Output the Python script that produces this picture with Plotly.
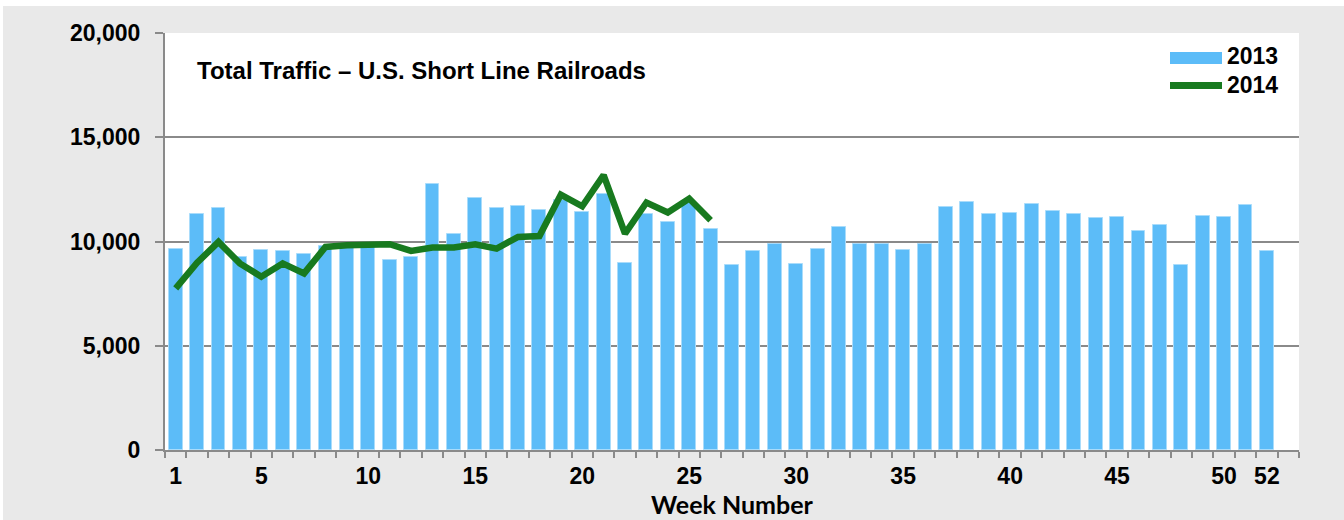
import plotly.graph_objects as go

# Weekly carloads
weeks_2013 = list(range(1, 53))
traffic_2013 = [9660, 11310, 11610, 9280, 9580, 9540, 9390, 9780, 9820, 9900,
                9120, 9270, 12750, 10350, 12080, 11610, 11680, 11520, 12000, 11420,
                12280, 8960, 11330, 10930, 11850, 10620, 8850, 9550, 9890, 8910,
                9620, 10690, 9900, 9900, 9580, 9860, 11660, 11880, 11330, 11370,
                11810, 11460, 11300, 11120, 11170, 10500, 10780, 8860, 11230, 11170,
                11760, 9540]

weeks_2014 = list(range(1, 27))
traffic_2014 = [7750, 8980, 9980, 8950, 8310, 8950, 8470, 9740, 9820, 9870,
                9870, 9550, 9710, 9710, 9870, 9660, 10220, 10260, 12250, 11690,
                13180, 10380, 11870, 11390, 12060, 11020]

week_ticks = [1, 5, 10, 15, 20, 25, 30, 35, 40, 45, 50, 52]
y_ticks = [0, 5000, 10000, 15000, 20000]

BAR_COLOR = "#5cbcf8"
LINE_COLOR = "#187a1f"
GRID_COLOR = "#8a8a8a"
BG_GRAY = "#e9e9e9"
FONT = "Liberation Sans, Arial, sans-serif"

fig = go.Figure()

fig.add_trace(go.Bar(
    x=weeks_2013,
    y=traffic_2013,
    name="2013",
    width=0.65,
    marker=dict(color=BAR_COLOR, line=dict(color="#a9dcfb", width=1)),
    showlegend=False,
))

fig.add_trace(go.Scatter(
    x=weeks_2014,
    y=traffic_2014,
    name="2014",
    mode="lines",
    line=dict(color=LINE_COLOR, width=6.5),
    showlegend=False,
))

# plot area in pixels: x 165..1299, y 33..450
def px_x(px):
    return (px - 165) / 1134

def px_y(py):
    return (450 - py) / 417

shapes = [
    # thin white strips around the gray frame
    dict(type="rect", xref="paper", yref="paper",
         x0=px_x(-5), x1=px_x(1350), y0=px_y(6), y1=px_y(-5),
         fillcolor="white", line=dict(width=0), layer="below"),
    dict(type="rect", xref="paper", yref="paper",
         x0=px_x(-5), x1=px_x(3), y0=px_y(530), y1=px_y(-5),
         fillcolor="white", line=dict(width=0), layer="below"),
    # hand-made legend swatches
    dict(type="rect", xref="paper", yref="paper",
         x0=px_x(1170), x1=px_x(1222), y0=px_y(64), y1=px_y(52),
         fillcolor=BAR_COLOR, line=dict(width=0), layer="above"),
    dict(type="line", xref="paper", yref="paper",
         x0=px_x(1170), x1=px_x(1222), y0=px_y(85.5), y1=px_y(85.5),
         line=dict(color=LINE_COLOR, width=7), layer="above"),
]

annotations = [
    dict(text="<b>Total Traffic \u2013 U.S. Short Line Railroads</b>",
         xref="paper", yref="paper", x=px_x(195), y=px_y(70),
         xanchor="left", yanchor="middle", showarrow=False,
         font=dict(family=FONT, size=24, color="black")),
    dict(text="<b>2013</b>", xref="paper", yref="paper",
         x=px_x(1225), y=px_y(56.5), xanchor="left", yanchor="middle",
         showarrow=False, font=dict(family=FONT, size=23, color="black")),
    dict(text="<b>2014</b>", xref="paper", yref="paper",
         x=px_x(1225), y=px_y(85), xanchor="left", yanchor="middle",
         showarrow=False, font=dict(family=FONT, size=23, color="black")),
]

fig.update_layout(
    width=1344,
    height=520,
    margin=dict(l=165, r=45, t=33, b=70),
    paper_bgcolor=BG_GRAY,
    plot_bgcolor="white",
    showlegend=False,
    bargap=0,
    shapes=shapes,
    annotations=annotations,
    font=dict(family=FONT, color="black"),
)

fig.update_xaxes(
    automargin=False,
    range=[0.5, 53.5],
    tickmode="array",
    tickvals=week_ticks,
    ticktext=[f"<b>{w}</b>" for w in week_ticks],
    ticks="",
    tickfont=dict(family=FONT, size=23, color="black"),
    ticklabelstandoff=4,
    showline=True,
    linecolor=GRID_COLOR,
    linewidth=2,
    showgrid=False,
    zeroline=False,
    minor=dict(tickmode="linear", tick0=0.5, dtick=1, ticks="outside",
               ticklen=6, tickcolor=GRID_COLOR, tickwidth=1.5, showgrid=False),
    title=dict(text="<b>Week Number</b>", standoff=5,
               font=dict(family="Lato, Carlito, sans-serif", size=25, color="black")),
)

fig.update_yaxes(
    automargin=False,
    range=[0, 20000],
    tickmode="array",
    tickvals=y_ticks,
    ticktext=[f"<b>{v:,}</b>" for v in y_ticks],
    ticks="outside",
    ticklen=8,
    tickwidth=1.5,
    tickcolor=GRID_COLOR,
    tickfont=dict(family=FONT, size=23, color="black"),
    ticklabelstandoff=10,
    showline=True,
    linecolor=GRID_COLOR,
    linewidth=2,
    showgrid=True,
    gridcolor=GRID_COLOR,
    gridwidth=1.5,
    zeroline=False,
)

fig.write_html("out.html", config={"displayModeBar": False},
               post_script="document.body.style.margin = '0';")
